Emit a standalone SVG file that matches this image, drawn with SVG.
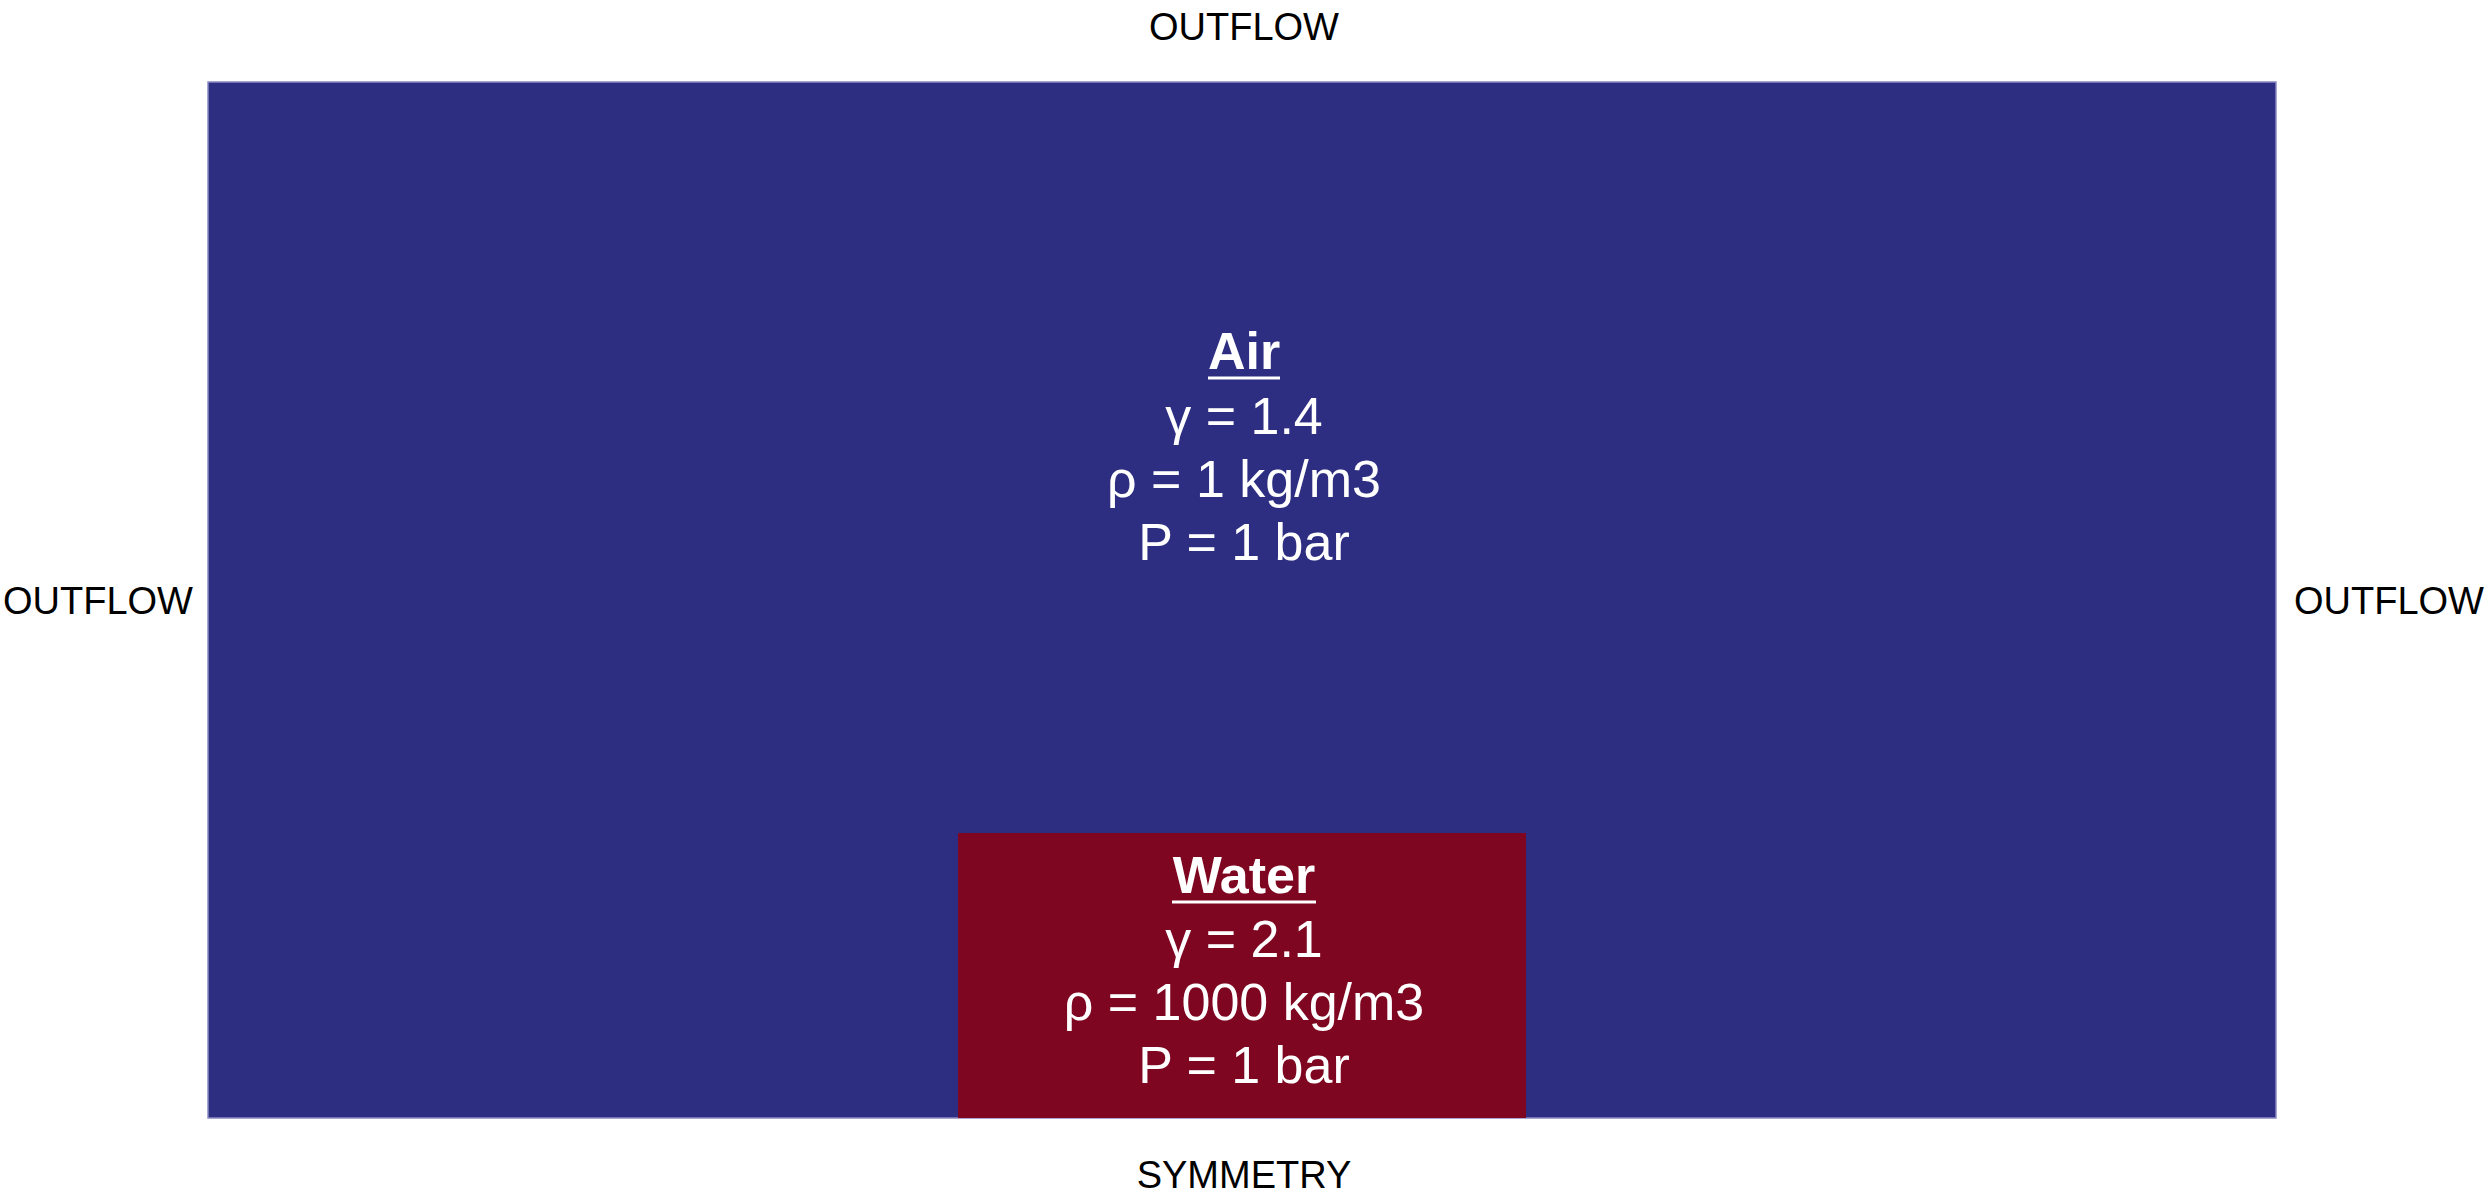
<svg xmlns="http://www.w3.org/2000/svg" width="2492" height="1198" viewBox="0 0 2492 1198">
  <style>
    .bc { font-family: "Liberation Sans", Arial, sans-serif; font-size: 38px; fill: #000; text-anchor: middle; }
    .lbl { font-family: "Liberation Sans", Arial, sans-serif; font-size: 52px; fill: #fff; text-anchor: middle; }
    .hd { font-family: "Liberation Sans", Arial, sans-serif; font-size: 52px; font-weight: bold; fill: #fff; text-anchor: middle; }
    .ul { stroke: #fff; stroke-width: 3; }
  </style>
  <rect width="2492" height="1198" fill="#ffffff"/>
  <g id="air">
    <rect x="208" y="82" width="2068" height="1036" fill="#2d2e82" stroke="#8a8ac4" stroke-width="1.5"/>
    <text class="hd" x="1244" y="369">Air</text>
    <line class="ul" x1="1208" y1="378" x2="1280" y2="378"/>
    <text class="lbl" x="1244" y="434">γ = 1.4</text>
    <text class="lbl" x="1244" y="497">ρ = 1 kg/m3</text>
    <text class="lbl" x="1244" y="560">P = 1 bar</text>
  </g>
  <g id="water">
    <rect x="958" y="833" width="568" height="285" fill="#7e0620"/>
    <text class="hd" x="1244" y="893">Water</text>
    <line class="ul" x1="1172" y1="902" x2="1316" y2="902"/>
    <text class="lbl" x="1244" y="957">γ = 2.1</text>
    <text class="lbl" x="1244" y="1020">ρ = 1000 kg/m3</text>
    <text class="lbl" x="1244" y="1083">P = 1 bar</text>
  </g>
  <g id="boundaries">
    <text class="bc" x="1244" y="40">OUTFLOW</text>
    <text class="bc" x="98" y="614">OUTFLOW</text>
    <text class="bc" x="2389" y="614">OUTFLOW</text>
    <text class="bc" x="1244" y="1188">SYMMETRY</text>
  </g>
  <g id="connectors"/>
</svg>
